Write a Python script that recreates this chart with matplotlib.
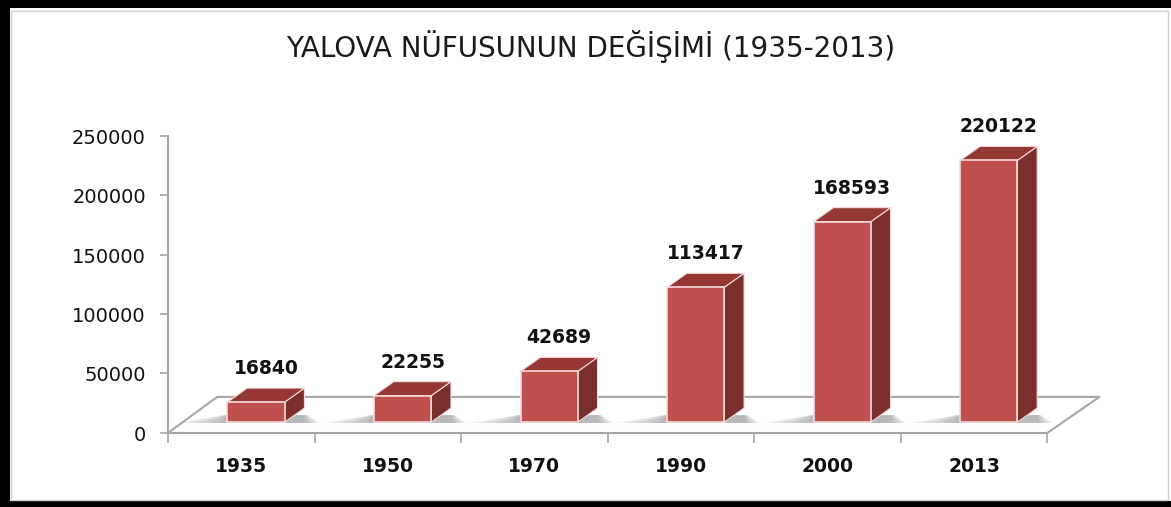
import matplotlib
matplotlib.use("Agg")
import matplotlib.pyplot as plt
from matplotlib.patches import Polygon, Rectangle
import numpy as np

years = ['1935', '1950', '1970', '1990', '2000', '2013']
population = [16840, 22255, 42689, 113417, 168593, 220122]
yticks = [0, 50000, 100000, 150000, 200000, 250000]
title = 'YALOVA NÜFUSUNUN DEĞİŞİMİ (1935-2013)'

W, H = 1171, 507
fig = plt.figure(figsize=((W + 0.4) / 100, (H + 0.4) / 100), dpi=100)
fig.patch.set_facecolor('white')

# frame
fig.patches.append(Rectangle((0, 0), 10 / W, 1, transform=fig.transFigure,
                             facecolor='black', edgecolor='none', zorder=0))
fig.patches.append(Rectangle((0, 1 - 8 / H), 1, 8 / H, transform=fig.transFigure,
                             facecolor='black', edgecolor='none', zorder=0))
fig.patches.append(Rectangle((0, 0), 1, 6 / H, transform=fig.transFigure,
                             facecolor='black', edgecolor='none', zorder=0))
fig.patches.append(Rectangle((1168 / W, 6 / H), 3 / W, (H - 14) / H, transform=fig.transFigure,
                             facecolor='white', edgecolor='none', zorder=0))
fig.patches.append(Rectangle((11 / W, 7 / H), (1168 - 11) / W, (498 - 9) / H, transform=fig.transFigure,
                             facecolor='none', edgecolor='#d0d0d0', lw=1, zorder=0))

ax = fig.add_axes([168 / W, 74 / H, 879 / W, 297 / H])
ax.set_xlim(-0.5, len(years) - 0.5)
ax.set_ylim(0, 250000)
ax.patch.set_alpha(0)
for s in ['top', 'right']:
    ax.spines[s].set_visible(False)
for s in ['left', 'bottom']:
    ax.spines[s].set_color('#a6a6a6')
    ax.spines[s].set_linewidth(1.5)

# depth offsets (data units)
FDX, FDY = 0.335, 30300
BX0, BY0 = 0.3 * FDX, 0.3 * FDY
BDX, BDY = 0.135, 11800
BW = 0.39

# floor
n = len(years)
ax.plot([-0.5, -0.5 + FDX, n - 0.5 + FDX + 0.02, n - 0.5],
        [0, FDY, FDY, 0], color='#a6a6a6', lw=1.5, clip_on=False, zorder=1)

front_c = '#C0504D'
top_c = '#943735'
side_c = '#7A2F2D'
edge_c = '#F4DAD9'

for i, v in enumerate(population):
    xl = i + BX0 - BW / 2
    xr = xl + BW
    yb = BY0
    yt = BY0 + v
    # soft shadow on the floor
    for k in range(6):
        e = 0.045 * (6 - k)
        sh = Polygon([(xl - e * 1.3, yb - 700), (xr + BDX + e * 0.4, yb - 700),
                      (xr + BDX + e * 0.1, yb + BDY * 0.5), (xl - e * 0.1, yb + BDY * 0.5)],
                     closed=True, facecolor='#505050', edgecolor='none', alpha=0.08,
                     clip_on=False, zorder=2)
        ax.add_patch(sh)
    side = Polygon([(xr, yb), (xr + BDX, yb + BDY), (xr + BDX, yt + BDY), (xr, yt)],
                   closed=True, facecolor=side_c, edgecolor=edge_c, lw=0.8, clip_on=False, zorder=3)
    top = Polygon([(xl, yt), (xr, yt), (xr + BDX, yt + BDY), (xl + BDX, yt + BDY)],
                  closed=True, facecolor=top_c, edgecolor=edge_c, lw=0.8, clip_on=False, zorder=3)
    front = Polygon([(xl, yb), (xr, yb), (xr, yt), (xl, yt)],
                    closed=True, facecolor=front_c, edgecolor=edge_c, lw=1.2, clip_on=False, zorder=4)
    ax.add_patch(side)
    ax.add_patch(top)
    ax.add_patch(front)
    ax.annotate(str(v), xy=(i + BX0 + BDX / 2, yt + BDY), xytext=(0, 20),
                textcoords='offset pixels', ha='center', va='center',
                fontsize=13.5, fontweight='bold', color='#111111', zorder=5)

ax.set_yticks(yticks)
ax.set_yticklabels([str(t) for t in yticks])
ax.tick_params(axis='y', direction='out', length=6, width=1.2, color='#a6a6a6',
               pad=10, labelsize=14, labelcolor='#111111')
ax.set_xticks(range(n))
ax.set_xticklabels(years, fontweight='bold')
ax.set_xticks(np.arange(-0.5, n, 1.0), minor=True)
ax.tick_params(axis='x', which='major', length=0, pad=17, labelsize=13.5, labelcolor='#111111')
ax.tick_params(axis='x', which='minor', direction='out', length=7, width=1.2, color='#a6a6a6')

fig.text(590 / W, 1 - 46 / H, title, ha='center', va='center', fontsize=20, color='#1a1a1a')

fig.savefig('out.png', dpi=100)
